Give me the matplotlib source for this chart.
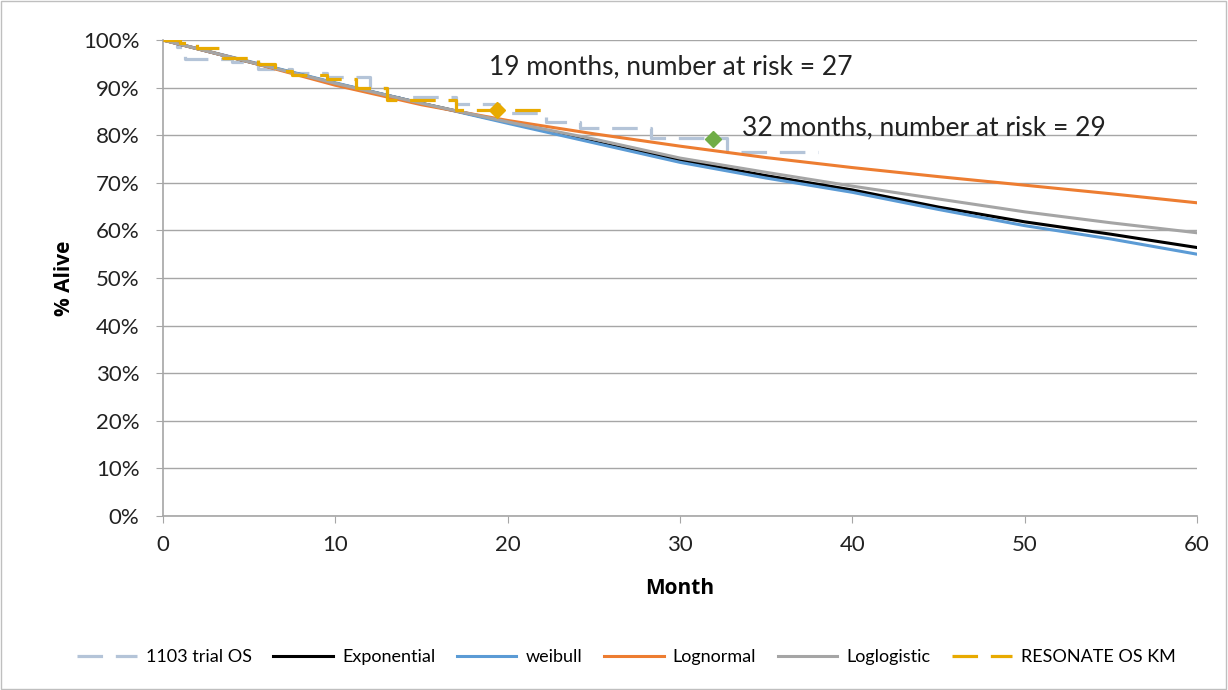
import matplotlib
matplotlib.use('Agg')
import matplotlib.pyplot as plt
from matplotlib.patches import Rectangle
from matplotlib.ticker import FuncFormatter, MultipleLocator

plt.rcParams['font.family'] = ['Lato', 'DejaVu Sans']

# fitted survival curves, % alive by month
months = [0, 5, 10, 15, 20, 25, 30, 35, 40, 45, 50, 55, 60]
exponential = [100, 95.4, 90.9, 86.7, 82.7, 78.6, 74.8, 71.5, 68.5, 64.9, 61.8, 59.2, 56.4]
weibull = [100, 95.5, 91.0, 86.7, 82.5, 78.4, 74.3, 71.0, 68.0, 64.4, 61.0, 58.2, 55.0]
lognormal = [100, 95.4, 90.5, 86.4, 83.1, 80.3, 77.7, 75.3, 73.2, 71.3, 69.5, 67.7, 65.8]
loglogistic = [100, 95.4, 90.9, 86.7, 82.8, 79.2, 75.2, 72.2, 69.3, 66.6, 63.9, 61.6, 59.5]

# Kaplan-Meier step curves
trial_t = [0, 0.8, 1.3, 4.0, 5.5, 7.5, 9.5, 12.0, 13.0, 17.0, 19.5, 22.2, 24.2, 28.3, 32.7, 38.0]
trial_s = [100, 98.5, 96.0, 95.3, 94.0, 93.0, 92.2, 90.0, 88.0, 86.5, 84.7, 82.8, 81.5, 79.4, 76.5, 76.5]
reso_t = [0, 1.0, 2.0, 3.5, 5.5, 6.5, 7.5, 9.5, 11.2, 13.0, 17.0, 22.2]
reso_s = [100, 99.3, 98.3, 96.2, 95.0, 93.5, 92.6, 91.8, 90.0, 87.5, 85.3, 85.3]

# at-risk markers
risk_19 = (19.4, 85.3)
risk_32 = (31.9, 79.2)

fig = plt.figure(figsize=(12.28, 6.9), dpi=100)
ax = fig.add_axes([0.1327, 0.2522, 0.8421, 0.6898])

ax.plot(trial_t, trial_s, drawstyle='steps-post', color='#B4C4D8', lw=2.3,
        dashes=(8, 4), label='1103 trial OS', zorder=2)
ax.plot(months, exponential, color='black', lw=2.2, label='Exponential', zorder=3)
ax.plot(months, weibull, color='#5B9BD5', lw=2.2, label='weibull', zorder=3)
ax.plot(months, lognormal, color='#ED7D31', lw=2.2, label='Lognormal', zorder=3)
ax.plot(months, loglogistic, color='#A5A5A5', lw=2.2, label='Loglogistic', zorder=3)
ax.plot(reso_t, reso_s, drawstyle='steps-post', color='#E8AA00', lw=2.3,
        dashes=(8, 4), label='RESONATE OS KM', zorder=4)

ax.plot(*risk_19, marker='D', color='#E8AA00', ms=8, zorder=5)
ax.plot(*risk_32, marker='D', color='#70AD47', ms=8, zorder=5)

ax.text(18.9, 94.3, '19 months, number at risk = 27', fontsize=19, va='center', color='#222222')
ax.text(33.6, 81.5, '32 months, number at risk = 29', fontsize=19, va='center', color='#222222')

ax.set_xlim(0, 60)
ax.set_ylim(0, 100)
ax.xaxis.set_major_locator(MultipleLocator(10))
ax.yaxis.set_major_locator(MultipleLocator(10))
ax.yaxis.set_major_formatter(FuncFormatter(lambda v, p: '%d%%' % v))
ax.grid(axis='y', color='#A6A6A6', lw=1)
ax.set_axisbelow(True)
for s in ['top', 'right']:
    ax.spines[s].set_visible(False)
for s in ['left', 'bottom']:
    ax.spines[s].set_color('#A6A6A6')
    ax.spines[s].set_linewidth(1.2)
ax.tick_params(colors='#A6A6A6', labelcolor='#222222', labelsize=16, length=5, direction='out')
ax.tick_params(axis='x', pad=9)
ax.tick_params(axis='y', pad=12)

ax.set_xlabel('Month', fontsize=15, fontweight='bold', labelpad=16, family='Open Sans')
ax.set_ylabel('% Alive', fontsize=15, fontweight='bold', labelpad=6, family='Open Sans')

fig.legend(loc='center', bbox_to_anchor=(0.51, 0.048), ncol=6, frameon=False,
           fontsize=13, handlelength=3.3, columnspacing=1.2, handletextpad=0.5)

fig.patches.append(Rectangle((0.001, 0.001), 0.997, 0.997, transform=fig.transFigure,
                             fill=False, edgecolor='#BFBFBF', lw=1))

fig.savefig('out.png', dpi=100)
